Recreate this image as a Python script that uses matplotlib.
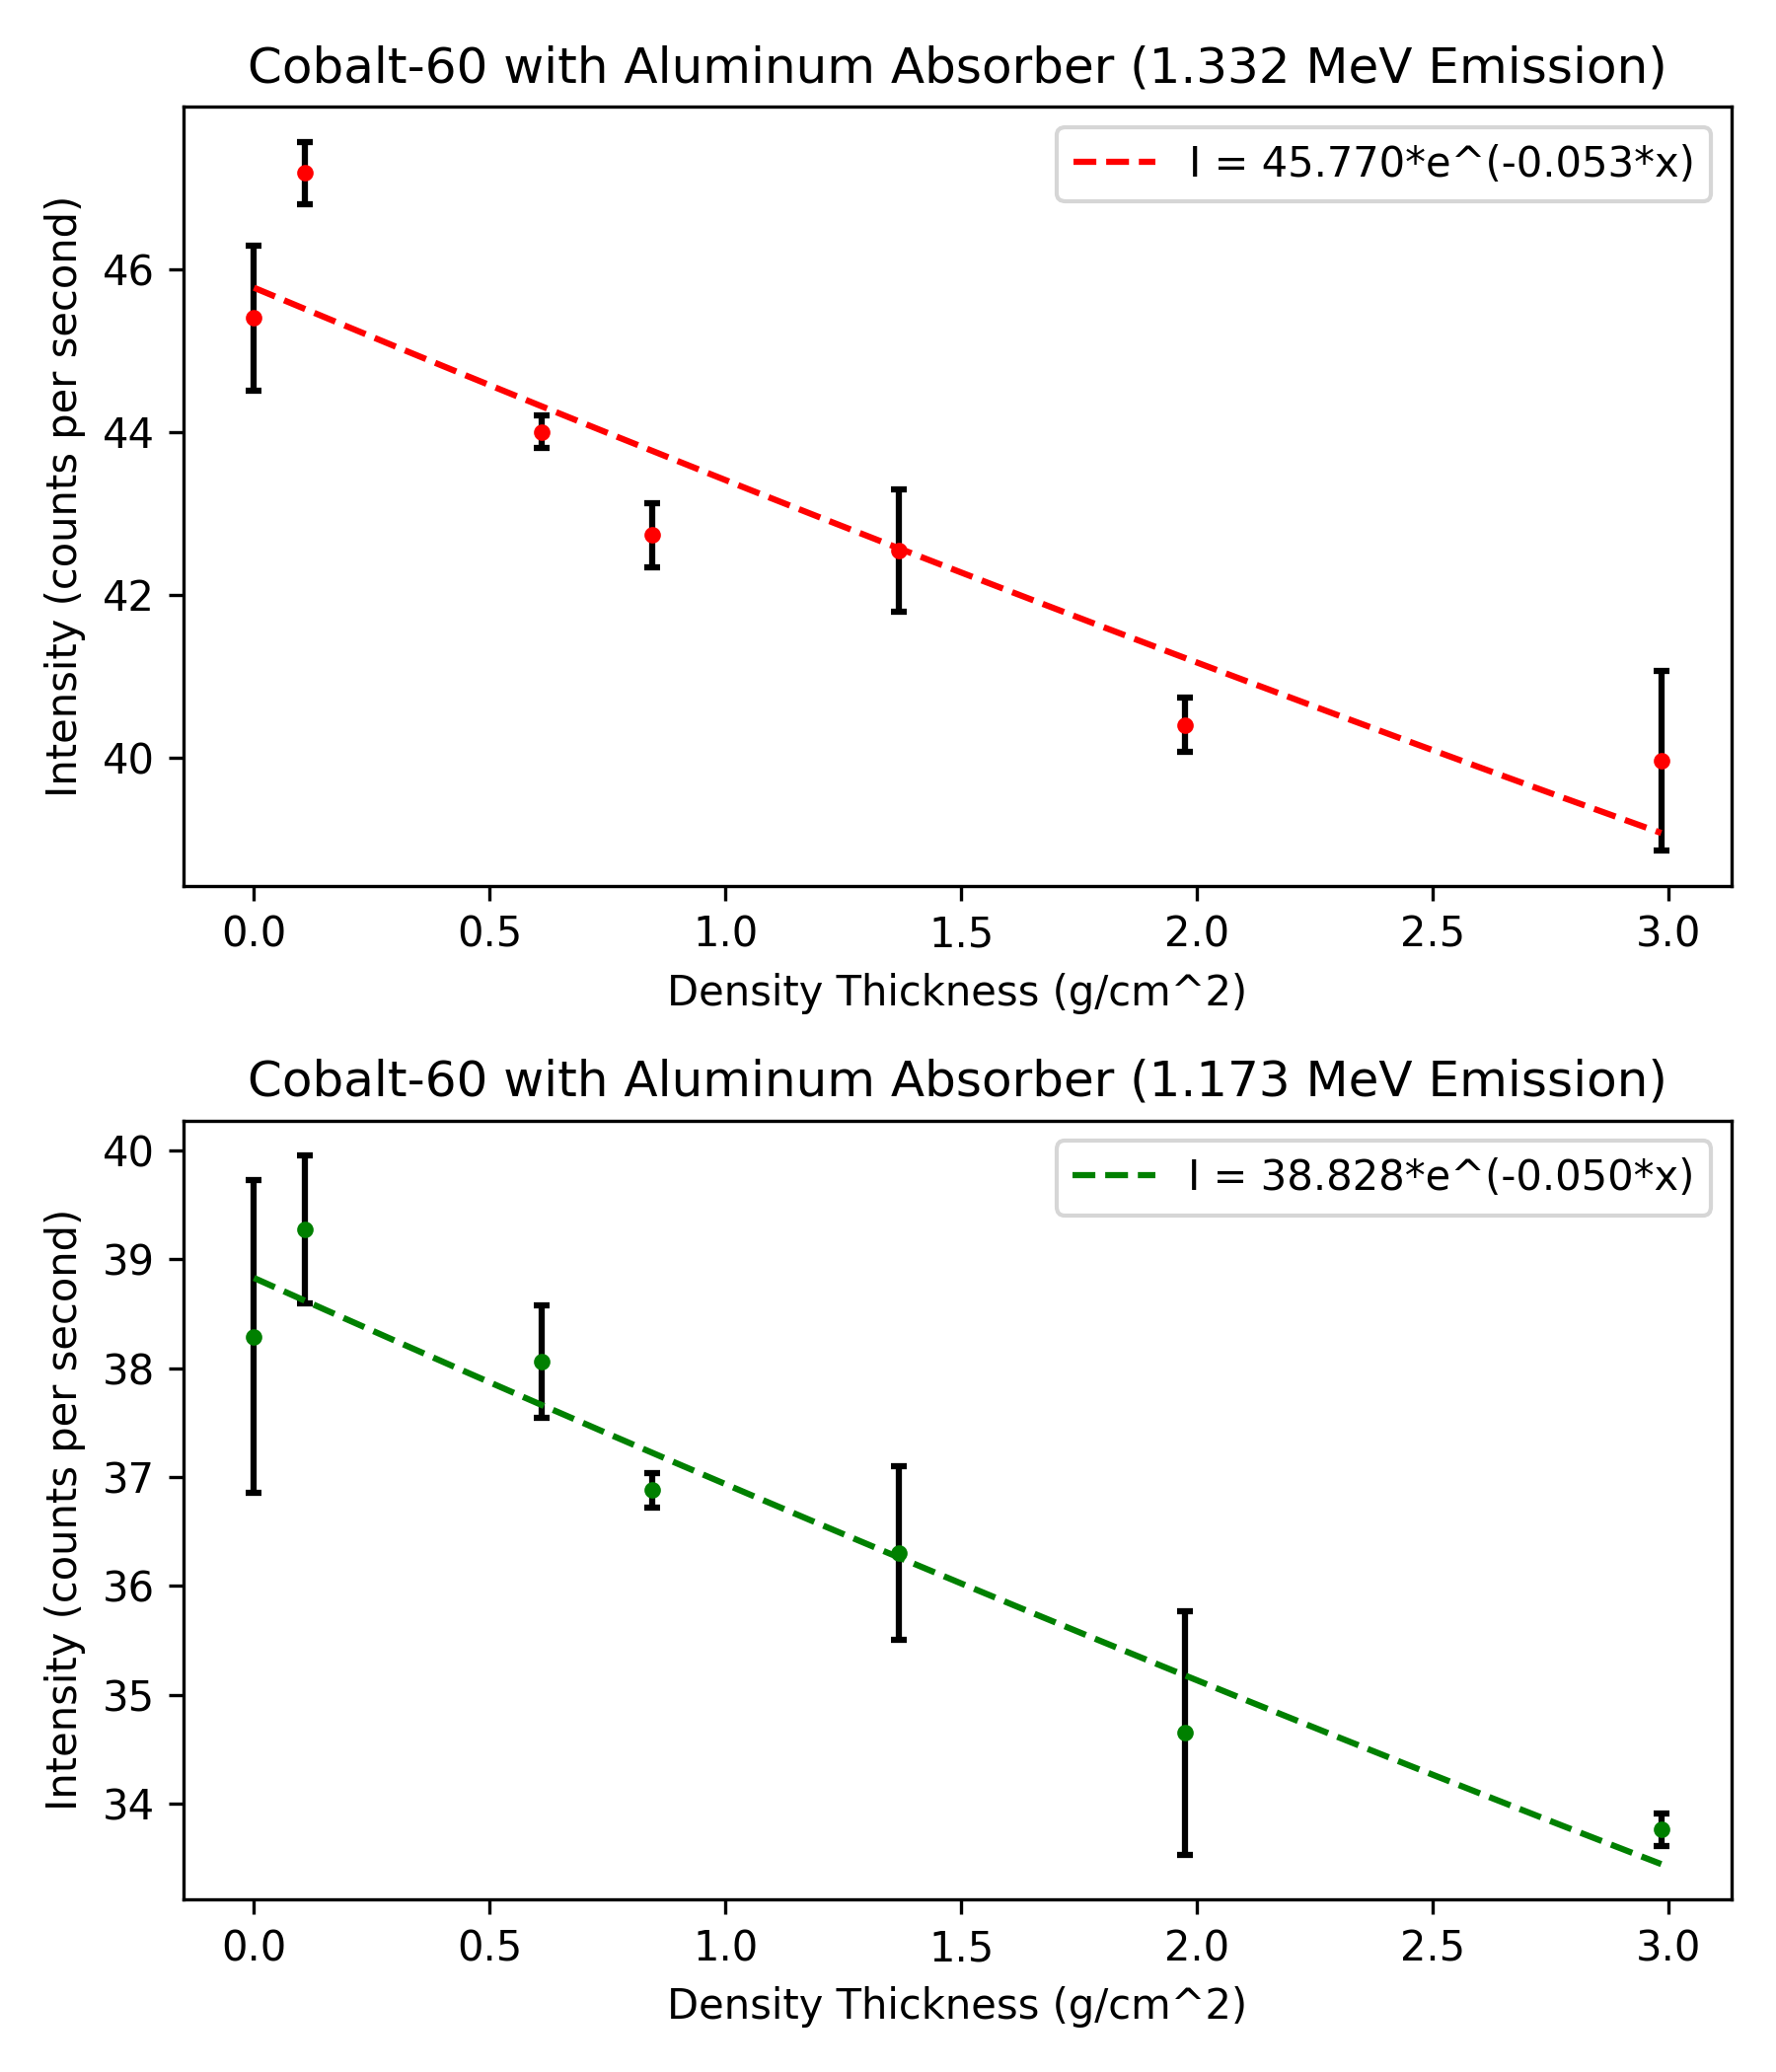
import numpy as np
import matplotlib.pyplot as plt

# density thickness of the aluminum absorbers (g/cm^2)
thickness = [0.0, 0.107, 0.61, 0.845, 1.368, 1.975, 2.985]

# 1.332 MeV peak
rate_1332 = [45.40, 47.18, 44.00, 42.73, 42.54, 40.40, 39.96]
err_1332 = [0.89, 0.38, 0.20, 0.39, 0.75, 0.33, 1.10]
fit_1332 = (45.770, 0.053)

# 1.173 MeV peak
rate_1173 = [38.29, 39.27, 38.06, 36.88, 36.30, 34.65, 33.76]
err_1173 = [1.44, 0.68, 0.52, 0.16, 0.80, 1.12, 0.15]
fit_1173 = (38.828, 0.050)

fig, axes = plt.subplots(2, 1, figsize=(6, 7), dpi=300)

panels = [
    (axes[0], rate_1332, err_1332, fit_1332, 'red', '1.332'),
    (axes[1], rate_1173, err_1173, fit_1173, 'green', '1.173'),
]

x = np.array(thickness)
xfit = np.linspace(x.min(), x.max(), 200)

for ax, rate, err, (I0, mu), col, energy in panels:
    ax.errorbar(x, rate, yerr=err, fmt='.', color=col, ecolor='black',
                elinewidth=1.5, capsize=2, capthick=1.5)
    ax.plot(xfit, I0 * np.exp(-mu * xfit), '--', color=col,
            label='I = %.3f*e^(-%.3f*x)' % (I0, mu))
    ax.set_title('Cobalt-60 with Aluminum Absorber (%s MeV Emission)' % energy)
    ax.set_xlabel('Density Thickness (g/cm^2)')
    ax.set_ylabel('Intensity (counts per second)')
    ax.legend(loc='upper right')

fig.tight_layout()
fig.savefig('out.png')
